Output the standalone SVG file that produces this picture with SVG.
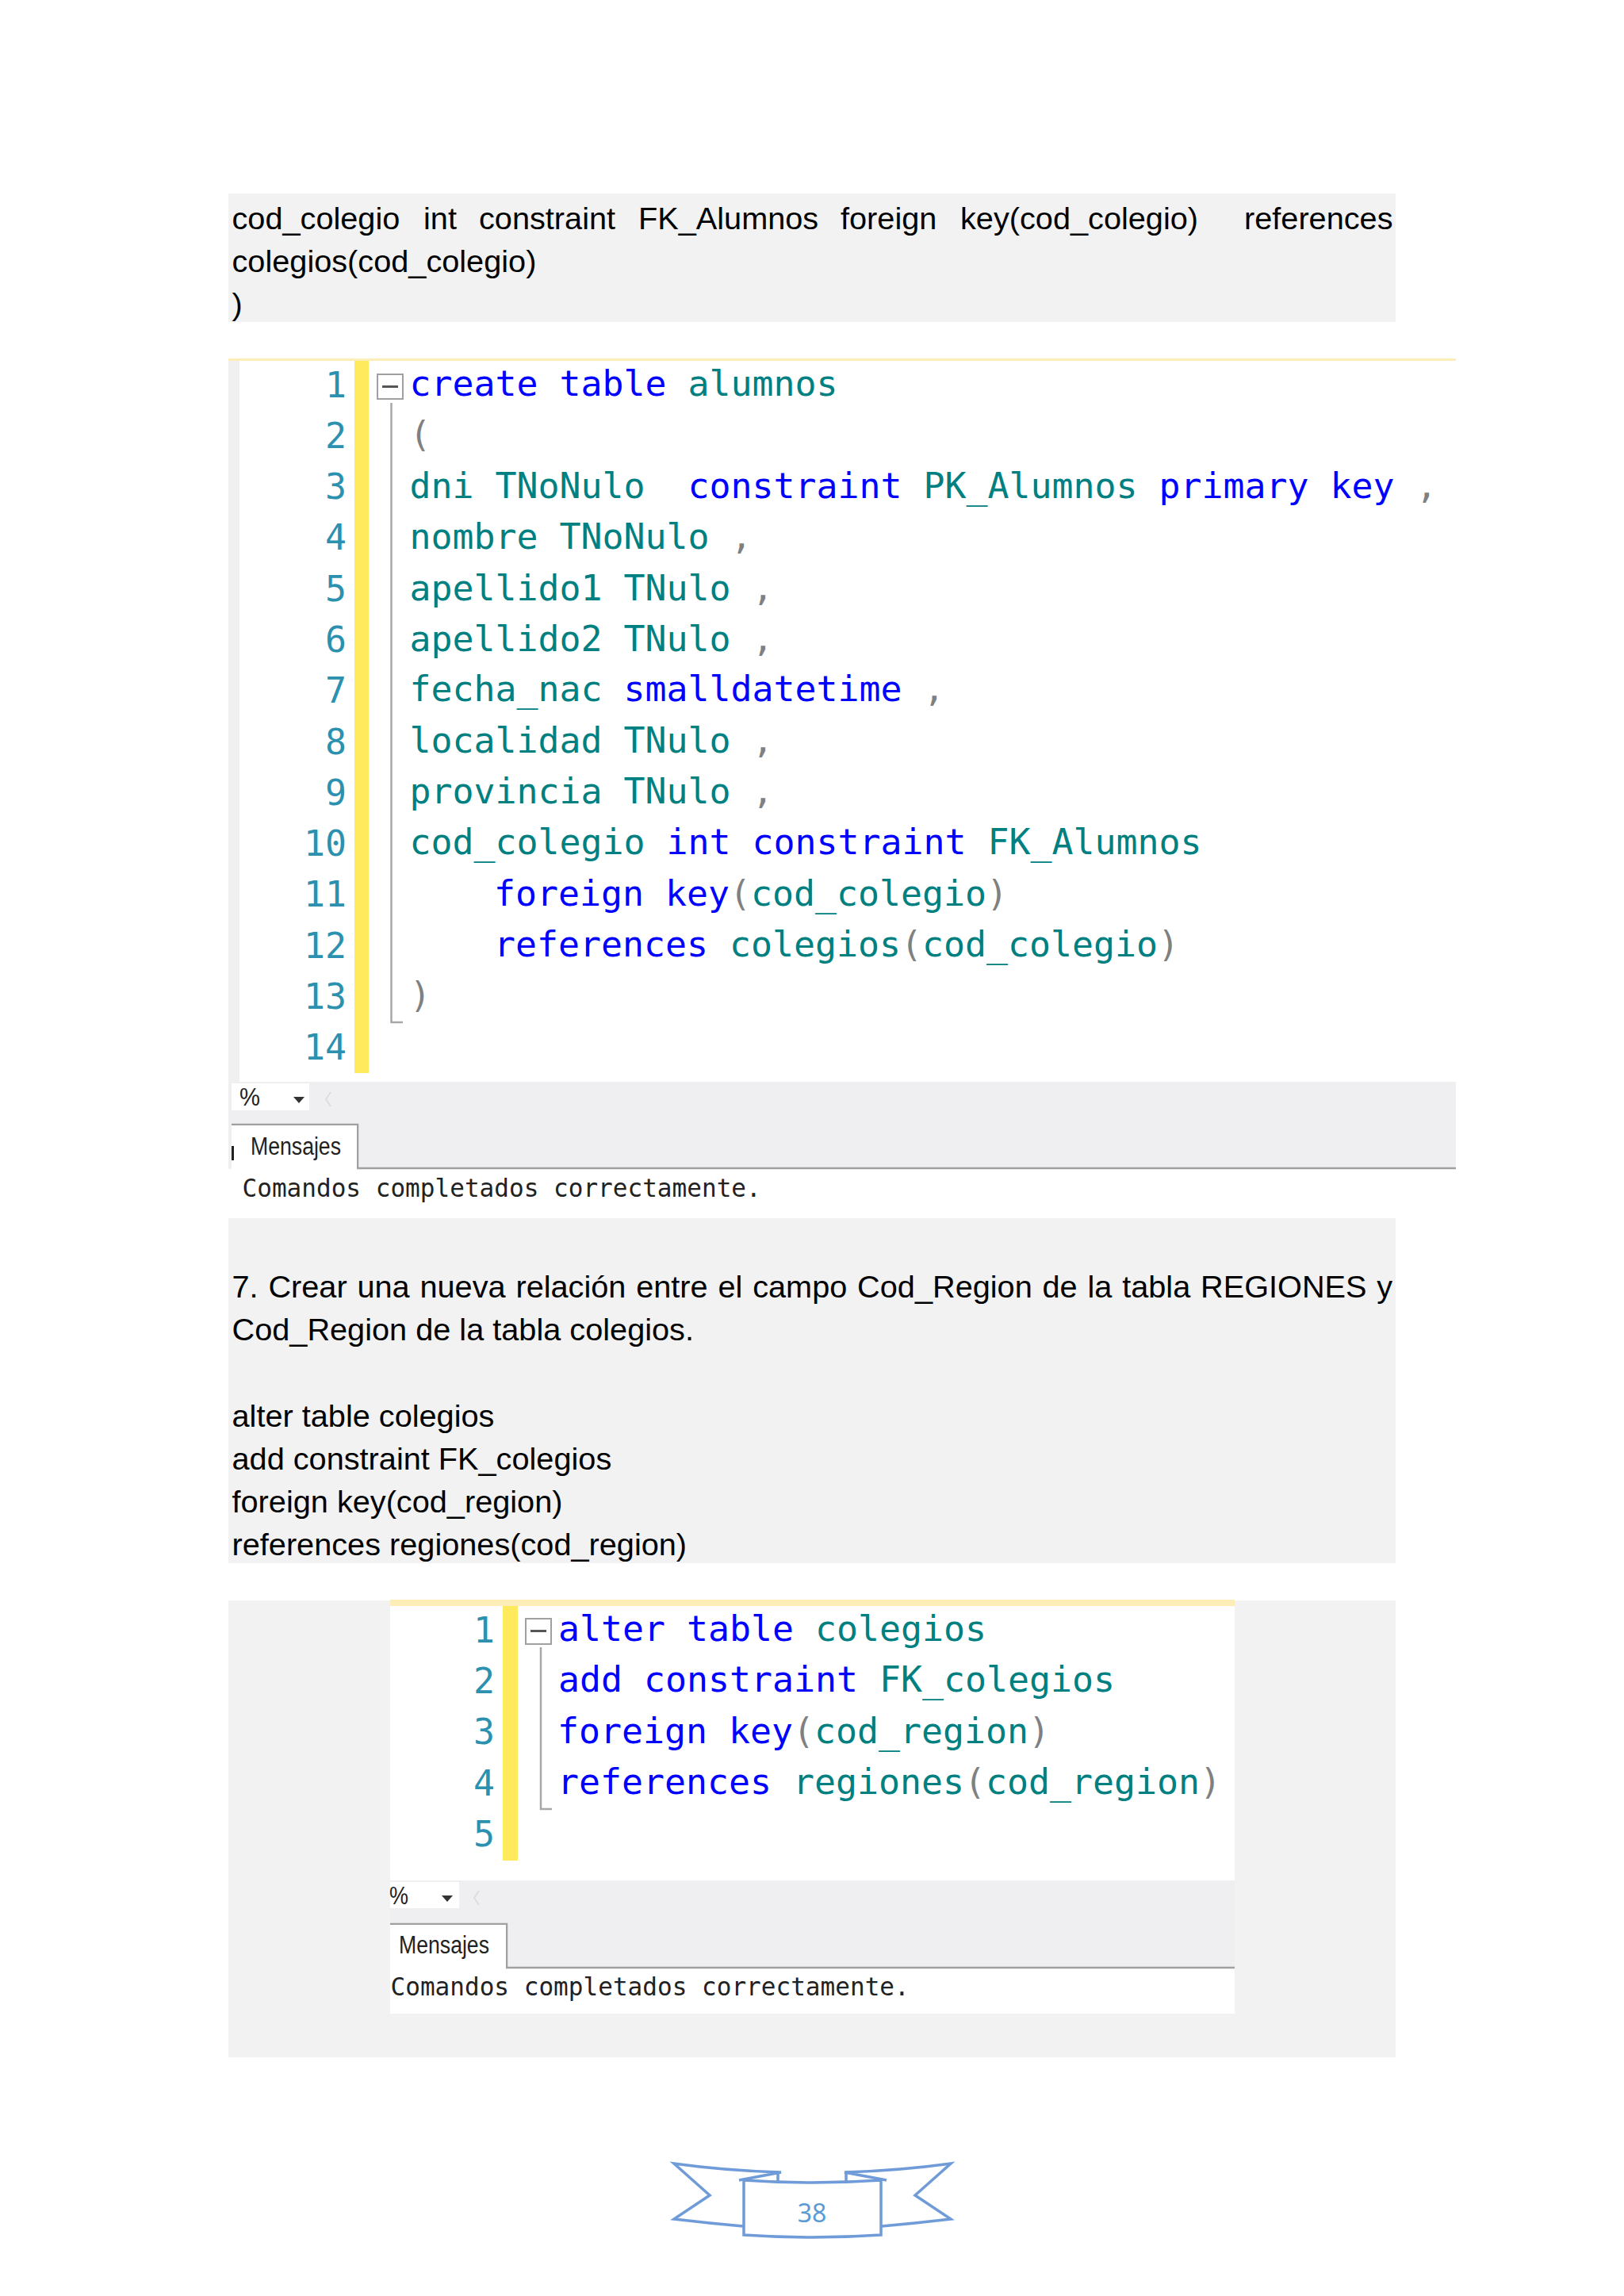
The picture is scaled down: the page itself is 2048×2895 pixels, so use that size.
<svg xmlns="http://www.w3.org/2000/svg" width="2048" height="2895" viewBox="0 0 2048 2895">
<style>
.p{font-family:"Liberation Sans",Arial,sans-serif;font-size:39.7px;fill:#000}
.c{font-family:"DejaVu Sans Mono","Liberation Mono",monospace;font-size:44.85px;white-space:pre;fill:#008080}
.n{font-family:"DejaVu Sans Mono","Liberation Mono",monospace;font-size:44.85px;fill:#2b91af;text-anchor:end}
.k{fill:#0000ff}.g{fill:#808080}
.m{font-family:"DejaVu Sans Mono","Liberation Mono",monospace;font-size:31.05px;fill:#222}
.t{font-family:"Liberation Sans",Arial,sans-serif;font-size:31px;fill:#222}
.f{fill:#fff;stroke:#a0a0a0;stroke-width:2}
.l{fill:none;stroke:#a8a8a8;stroke-width:2.5}
.b{fill:none;stroke:#6f9bd8;stroke-width:3.5}
</style>
<rect width="2048" height="2895" fill="#fff"/>
<g id="panel-top">
<rect x="288" y="244" width="1472" height="162" fill="#f2f2f2"/>
<text class="p" y="288.500"><tspan x="292.500">cod_colegio</tspan><tspan x="534">int</tspan><tspan x="604">constraint</tspan><tspan x="805">FK_Alumnos</tspan><tspan x="1060">foreign</tspan><tspan x="1211">key(cod_colegio)</tspan><tspan x="1569">references</tspan></text>
<text class="p" x="292.500" y="342.500">colegios(cod_colegio)</text>
<text class="p" x="292.500" y="396.500">)</text>
</g>
<g id="screenshot-1">
<rect x="288" y="453" width="1548" height="1083" fill="#fff"/>
<rect x="288" y="455" width="14" height="910" fill="#f0f0f0"/>
<rect x="288" y="452" width="1548" height="3" fill="#fdeeb8"/>
<rect x="447" y="455" width="18" height="898" fill="#ffe95c"/>
<rect x="476" y="472" width="32" height="31" class="f"/>
<rect x="482" y="486" width="20" height="3" fill="#555"/>
<path class="l" d="M493.500 508V1289H508"/>
<g>
<text class="n" x="437" y="501">1</text><text class="n" x="437" y="565">2</text><text class="n" x="437" y="629">3</text><text class="n" x="437" y="693">4</text><text class="n" x="437" y="758">5</text><text class="n" x="437" y="822">6</text><text class="n" x="437" y="886">7</text><text class="n" x="437" y="951">8</text><text class="n" x="437" y="1015">9</text><text class="n" x="437" y="1079">10</text><text class="n" x="437" y="1143">11</text><text class="n" x="437" y="1208">12</text><text class="n" x="437" y="1272">13</text><text class="n" x="437" y="1336">14</text>
</g>
<text class="c" x="516.500" y="499">  <tspan class="k" x="516.500">create table</tspan> alumnos</text>
<text class="c g" x="516.500" y="563">(</text>
<text class="c" x="516.500" y="628">dni TNoNulo  <tspan class="k">constraint</tspan> PK_Alumnos <tspan class="k">primary key</tspan> <tspan class="g">,</tspan></text>
<text class="c" x="516.500" y="692">nombre TNoNulo <tspan class="g">,</tspan></text>
<text class="c" x="516.500" y="756.500">apellido1 TNulo <tspan class="g">,</tspan></text>
<text class="c" x="516.500" y="821">apellido2 TNulo <tspan class="g">,</tspan></text>
<text class="c" x="516.500" y="884">fecha_nac <tspan class="k">smalldatetime</tspan> <tspan class="g">,</tspan></text>
<text class="c" x="516.500" y="949">localidad TNulo <tspan class="g">,</tspan></text>
<text class="c" x="516.500" y="1013">provincia TNulo <tspan class="g">,</tspan></text>
<text class="c" x="516.500" y="1077">cod_colegio <tspan class="k">int constraint</tspan> FK_Alumnos</text>
<text class="c" x="515" y="1142">    <tspan class="k">foreign key</tspan><tspan class="g">(</tspan>cod_colegio<tspan class="g">)</tspan></text>
<text class="c" x="515" y="1206">    <tspan class="k">references</tspan> colegios<tspan class="g">(</tspan>cod_colegio<tspan class="g">)</tspan></text>
<text class="c g" x="516.500" y="1270">)</text>
<rect x="288" y="1364" width="1548" height="110" fill="#efeff1"/>
<rect x="292" y="1366" width="98" height="34" fill="#fff"/>
<text class="t" x="302" y="1394" textLength="26" lengthAdjust="spacingAndGlyphs">%</text>
<path d="M370 1383h14l-7 8z" fill="#333"/>
<path d="M417 1377l-6 9 6 9" fill="none" stroke="#ddd" stroke-width="2"/>
<path d="M292 1418H451V1473H1836" fill="none" stroke="#a0a0a0" stroke-width="2.500"/>
<rect x="292" y="1419" width="158" height="56" fill="#fff"/>
<rect x="292" y="1445" width="3" height="18" fill="#222"/>
<text class="t" x="316" y="1456" textLength="114" lengthAdjust="spacingAndGlyphs">Mensajes</text>
<text class="m" x="305.500" y="1508.500">Comandos completados correctamente.</text>
</g>
<g id="panel-middle">
<rect x="288" y="1536" width="1472" height="435" fill="#f2f2f2"/>
<text class="p" x="292.500" y="1635.500" word-spacing="1.780">7. Crear una nueva relación entre el campo Cod_Region de la tabla REGIONES y</text>
<text class="p" x="292.500" y="1689.500">Cod_Region de la tabla colegios.</text>
<text class="p" x="292.500" y="1798.500">alter table colegios</text>
<text class="p" x="292.500" y="1852.500">add constraint FK_colegios</text>
<text class="p" x="292.500" y="1906.500">foreign key(cod_region)</text>
<text class="p" x="292.500" y="1960.500">references regiones(cod_region)</text>
</g>
<g id="panel-bottom">
<rect x="288" y="2018" width="1472" height="576" fill="#f2f2f2"/>
</g>
<g id="screenshot-2">
<rect x="492" y="2018" width="1065" height="521" fill="#fff"/>
<rect x="492" y="2017" width="1065" height="8" fill="#fdeeb8"/>
<rect x="634" y="2025" width="19" height="321" fill="#ffe95c"/>
<rect x="663" y="2041" width="32" height="32" class="f"/>
<rect x="669" y="2055" width="20" height="3" fill="#555"/>
<path class="l" d="M682 2077V2281H696"/>
<text class="n" x="624" y="2071">1</text><text class="n" x="624" y="2135">2</text><text class="n" x="624" y="2199">3</text><text class="n" x="624" y="2264">4</text><text class="n" x="624" y="2328">5</text>
<text class="c k" x="704" y="2069">alter table <tspan style="fill:#008080">colegios</tspan></text>
<text class="c k" x="704" y="2133">add constraint <tspan style="fill:#008080">FK_colegios</tspan></text>
<text class="c k" x="703" y="2198">foreign key<tspan class="g">(</tspan><tspan style="fill:#008080">cod_region</tspan><tspan class="g">)</tspan></text>
<text class="c k" x="703" y="2262">references <tspan style="fill:#008080">regiones</tspan><tspan class="g">(</tspan><tspan style="fill:#008080">cod_region</tspan><tspan class="g">)</tspan></text>
<rect x="492" y="2371" width="1065" height="110" fill="#efeff1"/>
<rect x="492" y="2373" width="87" height="33" fill="#fff"/>
<text class="t" x="491" y="2401" textLength="24" lengthAdjust="spacingAndGlyphs">%</text>
<path d="M557 2390h14l-7 8z" fill="#333"/>
<path d="M604 2384l-6 9 6 9" fill="none" stroke="#ddd" stroke-width="2"/>
<path d="M492 2426H639V2481H1557" fill="none" stroke="#a0a0a0" stroke-width="2.500"/>
<rect x="492" y="2427" width="146" height="56" fill="#fff"/>
<text class="t" x="503" y="2463" textLength="114" lengthAdjust="spacingAndGlyphs">Mensajes</text>
<text class="m" x="492.500" y="2515.500">Comandos completados correctamente.</text>
</g>
<g id="page-number">
<path class="b" d="M937 2807Q892 2803 850 2798L895 2768L850 2728Q915 2737 985 2739L932 2749"/>
<path class="b" d="M1112 2807Q1157 2803 1199 2798L1154 2768L1199 2728Q1134 2737 1065 2739L1118 2749"/>
<path class="b" d="M981 2740V2750M1067 2740V2750"/>
<path class="b" d="M938 2749Q1024 2755 1111 2749V2818Q1024 2824 938 2818Z"/>
<text x="1024" y="2802" text-anchor="middle" style="font-family:'Noto Sans',sans-serif;font-size:32px;fill:#5b9bd5">38</text>
</g>
</svg>
